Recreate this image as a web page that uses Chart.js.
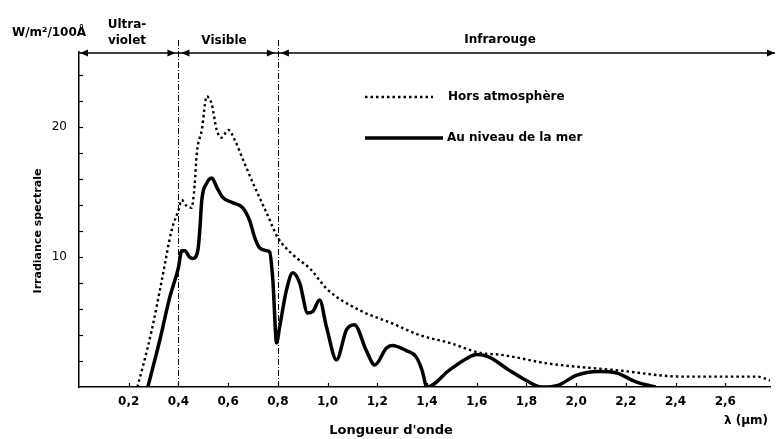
<!DOCTYPE html>
<html>
<head>
<meta charset="utf-8">
<script src="https://cdn.jsdelivr.net/npm/chart.js@4.4.1/dist/chart.umd.min.js"></script>
<style>
    body { margin: 0; background: #fff; }
    #wrap { width: 780px; height: 439px; }
</style>
</head>
<body>
<div id="wrap"><canvas id="spectrum" width="780" height="439"></canvas></div>
<script>
// Hors atmosphère (dotted)
const wavelengthsOut = [0.235, 0.26, 0.293, 0.333, 0.373, 0.40, 0.413, 0.43, 0.453, 0.465, 0.474, 0.494, 0.514, 0.524, 0.534, 0.554, 0.574, 0.60, 0.627, 0.66, 0.70, 0.755, 0.80, 0.86, 0.93, 1.0, 1.13, 1.26, 1.37, 1.49, 1.62, 1.69, 1.89, 2.16, 2.43, 2.73, 2.78];
const irradianceOut = [0, 1.8, 4.4, 8.2, 12.1, 13.6, 14.4, 14.0, 13.8, 15.5, 18.0, 19.8, 22.4, 22.2, 21.8, 19.8, 19.2, 19.8, 19.0, 17.5, 15.7, 13.4, 11.5, 10.2, 9.1, 7.5, 5.9, 4.9, 4.0, 3.4, 2.6, 2.5, 1.8, 1.3, 0.8, 0.8, 0.5];

// Au niveau de la mer (solid)
const wavelengthsSea = [0.277, 0.325, 0.365, 0.40, 0.413, 0.426, 0.445, 0.458, 0.478, 0.486, 0.494, 0.514, 0.534, 0.554, 0.578, 0.618, 0.659, 0.687, 0.707, 0.727, 0.755, 0.767, 0.78, 0.795, 0.807, 0.835, 0.86, 0.888, 0.92, 0.94, 0.968, 0.996, 1.036, 1.076, 1.108, 1.156, 1.19, 1.237, 1.26, 1.317, 1.357, 1.38, 1.40, 1.49, 1.56, 1.60, 1.65, 1.73, 1.80, 1.86, 1.93, 2.0, 2.09, 2.16, 2.24, 2.32];
const irradianceSea = [0, 3.6, 6.9, 9.2, 10.5, 10.5, 10.0, 9.9, 10.5, 12.1, 14.4, 15.7, 16.1, 15.4, 14.6, 14.2, 13.8, 12.8, 11.5, 10.7, 10.5, 10.4, 8.2, 3.4, 4.6, 7.5, 8.8, 8.0, 5.7, 5.8, 6.7, 4.6, 2.1, 4.4, 4.8, 2.8, 1.7, 3.0, 3.2, 2.8, 2.3, 1.3, 0, 1.3, 2.2, 2.5, 2.3, 1.3, 0.5, 0, 0.15, 0.9, 1.2, 1.1, 0.4, 0];

const xTickValues = [0.2, 0.4, 0.6, 0.8, 1.0, 1.2, 1.4, 1.6, 1.8, 2.0, 2.2, 2.4, 2.6];
const yTickValues = [2, 4, 6, 8, 10, 12, 14, 16, 18, 20, 22, 24];
const yLabelValues = [10, 20];
const bandLimits = [0.4, 0.8];

const FONT = '"DejaVu Sans", sans-serif';

function toPoints(xs, ys) {
    return xs.map((x, i) => ({ x: x, y: ys[i] }));
}

function arrowHead(ctx, x, y, dir) {
    ctx.beginPath();
    ctx.moveTo(x, y);
    ctx.lineTo(x - dir * 8, y - 3.5);
    ctx.lineTo(x - dir * 8, y + 3.5);
    ctx.closePath();
    ctx.fill();
}

const overlay = {
    id: 'overlay',
    beforeDatasetsDraw(chart) {
        const { ctx, chartArea, scales } = chart;
        ctx.save();
        ctx.strokeStyle = '#000';
        ctx.lineWidth = 1;
        ctx.setLineDash([6, 2, 1, 2]);
        bandLimits.forEach(v => {
            const px = Math.round(scales.x.getPixelForValue(v)) + 0.5;
            ctx.beginPath();
            ctx.moveTo(px, 40);
            ctx.lineTo(px, chartArea.bottom);
            ctx.stroke();
        });
        ctx.restore();
    },
    afterDraw(chart) {
        const { ctx, chartArea, scales } = chart;
        const x = scales.x, y = scales.y;
        ctx.save();
        ctx.strokeStyle = '#000';
        ctx.fillStyle = '#000';

        // inward ticks
        ctx.lineWidth = 1.2;
        xTickValues.forEach(v => {
            const px = Math.round(x.getPixelForValue(v)) + 0.5;
            ctx.beginPath();
            ctx.moveTo(px, chartArea.bottom);
            ctx.lineTo(px, chartArea.bottom - 4);
            ctx.stroke();
        });
        yTickValues.forEach(v => {
            const py = Math.round(y.getPixelForValue(v)) + 0.5;
            ctx.beginPath();
            ctx.moveTo(chartArea.left, py);
            ctx.lineTo(chartArea.left + 4, py);
            ctx.stroke();
        });

        // band arrows
        const top = 53;
        const x0 = chartArea.left, x4 = x.getPixelForValue(bandLimits[0]), x8 = x.getPixelForValue(bandLimits[1]);
        const xEnd = chartArea.right + 5;
        ctx.lineWidth = 1.5;
        ctx.beginPath();
        ctx.moveTo(x0, top);
        ctx.lineTo(xEnd, top);
        ctx.stroke();
        arrowHead(ctx, x0 + 1, top, -1);
        arrowHead(ctx, x4 - 3, top, 1);
        arrowHead(ctx, x4 + 3, top, -1);
        arrowHead(ctx, x8 - 3, top, 1);
        arrowHead(ctx, x8 + 3, top, -1);
        arrowHead(ctx, xEnd, top, 1);

        ctx.textBaseline = 'middle';
        ctx.font = 'bold 12px ' + FONT;
        ctx.textAlign = 'left';
        ctx.fillText('W/m²/100Å', 12, 33);
        ctx.textAlign = 'center';
        ctx.fillText('Ultra-', 127, 25);
        ctx.fillText('violet', 127, 41);
        ctx.fillText('Visible', 224, 41);
        ctx.fillText('Infrarouge', 500, 40);

        // axis titles
        ctx.font = 'bold 13px ' + FONT;
        ctx.fillText("Longueur d'onde", 391, 431);
        ctx.font = 'bold 12px ' + FONT;
        ctx.fillText('λ (µm)', 746, 421);
        ctx.save();
        ctx.translate(38, 231);
        ctx.rotate(-Math.PI / 2);
        ctx.font = 'bold 11px ' + FONT;
        ctx.fillText('Irradiance spectrale', 0, 0);
        ctx.restore();

        // legend
        const ds = chart.data.datasets;
        ctx.lineWidth = ds[0].borderWidth;
        ctx.setLineDash(ds[0].borderDash);
        ctx.beginPath();
        ctx.moveTo(365, 97);
        ctx.lineTo(433, 97);
        ctx.stroke();
        ctx.setLineDash([]);
        ctx.lineWidth = ds[1].borderWidth;
        ctx.beginPath();
        ctx.moveTo(365, 138);
        ctx.lineTo(443, 138);
        ctx.stroke();
        ctx.textAlign = 'left';
        ctx.font = 'bold 12px ' + FONT;
        ctx.fillText(ds[0].label, 448, 97);
        ctx.fillText(ds[1].label, 447, 138);
        ctx.restore();
    }
};

const chart = new Chart(document.getElementById('spectrum').getContext('2d'), {
    type: 'line',
    data: {
        datasets: [
            {
                label: 'Hors atmosphère',
                data: toPoints(wavelengthsOut, irradianceOut),
                borderColor: '#000',
                borderWidth: 2.4,
                borderDash: [2.5, 3],
                pointRadius: 0,
                cubicInterpolationMode: 'monotone',
                fill: false
            },
            {
                label: 'Au niveau de la mer',
                data: toPoints(wavelengthsSea, irradianceSea),
                borderColor: '#000',
                borderWidth: 3.5,
                pointRadius: 0,
                cubicInterpolationMode: 'monotone',
                fill: false
            }
        ]
    },
    options: {
        responsive: false,
        animation: false,
        layout: { padding: { top: 52, right: 10, left: 0, bottom: 0 } },
        plugins: {
            legend: { display: false },
            tooltip: { enabled: false }
        },
        scales: {
            x: {
                type: 'linear',
                min: 0,
                max: 2.78,
                afterBuildTicks: scale => {
                    scale.ticks = xTickValues.map(v => ({ value: v }));
                },
                afterFit: scale => { scale.height = 52; },
                grid: { display: false, drawTicks: false },
                border: { display: true, color: '#000', width: 1.5 },
                ticks: {
                    color: '#000',
                    padding: 8,
                    maxRotation: 0,
                    autoSkip: false,
                    font: { family: FONT, size: 12, weight: 'bold' },
                    callback: v => v.toFixed(1).replace('.', ',')
                }
            },
            y: {
                min: 0,
                max: 25.8,
                afterBuildTicks: scale => {
                    scale.ticks = yTickValues.map(v => ({ value: v }));
                },
                afterFit: scale => { scale.width = 79; },
                grid: { display: false, drawTicks: false },
                border: { display: true, color: '#000', width: 1.5 },
                ticks: {
                    color: '#000',
                    padding: 12,
                    autoSkip: false,
                    font: { family: FONT, size: 12 },
                    callback: v => yLabelValues.includes(v) ? String(v) : ''
                }
            }
        }
    },
    plugins: [overlay]
});
</script>
</body>
</html>
